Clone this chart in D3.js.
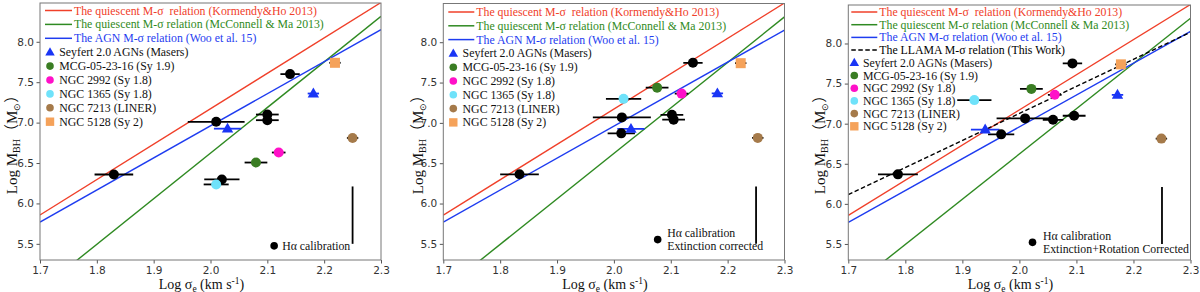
<!DOCTYPE html>
<html><head><meta charset="utf-8">
<script src="https://cdn.jsdelivr.net/npm/d3@7"></script>
<style>
body{margin:0;background:#fff}
svg text{white-space:pre}
</style></head><body>
<svg id="c" width="1200" height="292"></svg>
<script>
// ---------- data ----------
const xTicks = [1.7, 1.8, 1.9, 2.0, 2.1, 2.2, 2.3];
const yTicks = [5.5, 6.0, 6.5, 7.0, 7.5, 8.0];
const xDomain = [1.7, 2.3];
const yDomain = [5.3, 8.48];

const kormendyLine = [[1.7, 5.857], [2.3, 8.486]];
const mcconnellLine = [[1.7, 4.93], [2.3, 8.314]];
const wooLine = [[1.7, 5.77], [2.3, 8.15]];
const llamaLine = [[1.7, 6.116], [2.3, 8.14]];

const lineLabels = [
  "The quiescent M-σ  relation (Kormendy&Ho 2013)",
  "The quiescent M-σ relation (McConnell & Ma 2013)",
  "The AGN M-σ relation (Woo et al. 15)",
  "The LLAMA M-σ relation (This Work)"
];
const markerLabels = [
  "Seyfert 2.0 AGNs (Masers)",
  "MCG-05-23-16 (Sy 1.9)",
  "NGC 2992 (Sy 1.8)",
  "NGC 1365 (Sy 1.8)",
  "NGC 7213 (LINER)",
  "NGC 5128 (Sy 2)"
];
const markerKinds = ["maser", "mcg", "n2992", "n1365", "n7213", "n5128"];

// log sigma, log M, x error, kind
const panel1Points = [
  [1.830, 6.358, 0.034, "agn"],
  [2.010, 7.010, 0.050, "agn"],
  [2.020, 6.297, 0.031, "agn"],
  [2.100, 7.100, 0.020, "agn"],
  [2.100, 7.030, 0.020, "agn"],
  [2.140, 7.600, 0.017, "agn"],
  [2.030, 6.925, 0.024, "maser"],
  [2.181, 7.360, 0.010, "maser"],
  [2.080, 6.506, 0.020, "mcg"],
  [2.120, 6.630, 0.012, "n2992"],
  [2.010, 6.235, 0.022, "n1365"],
  [2.250, 6.810, 0.010, "n7213"],
  [2.219, 7.740, 0.010, "n5128"]
];
const panel2Points = [
  [1.834, 6.362, 0.034, "agn"],
  [2.014, 7.068, 0.051, "agn"],
  [2.013, 6.870, 0.024, "agn"],
  [2.102, 7.100, 0.020, "agn"],
  [2.105, 7.040, 0.020, "agn"],
  [2.139, 7.745, 0.017, "agn"],
  [2.030, 6.925, 0.024, "maser"],
  [2.182, 7.365, 0.010, "maser"],
  [2.076, 7.437, 0.020, "mcg"],
  [2.119, 7.363, 0.012, "n2992"],
  [2.017, 7.298, 0.031, "n1365"],
  [2.253, 6.814, 0.010, "n7213"],
  [2.223, 7.740, 0.010, "n5128"]
];
const panel3Points = [
  [1.787, 6.368, 0.035, "agn"],
  [2.010, 7.066, 0.050, "agn"],
  [1.968, 6.867, 0.023, "agn"],
  [2.059, 7.048, 0.018, "agn"],
  [2.096, 7.099, 0.020, "agn"],
  [2.093, 7.752, 0.017, "agn"],
  [1.940, 6.926, 0.025, "maser"],
  [2.172, 7.360, 0.010, "maser"],
  [2.021, 7.434, 0.020, "mcg"],
  [2.062, 7.360, 0.012, "n2992"],
  [1.921, 7.294, 0.030, "n1365"],
  [2.249, 6.814, 0.010, "n7213"],
  [2.178, 7.740, 0.010, "n5128"]
];
const scatterBar = [2.25, 5.5, 6.21];
const notes1 = ["Hα calibration"];
const notes2 = ["Hα calibration", "Extinction corrected"];
const notes3 = ["Hα calibration", "Extinction+Rotation Corrected"];
const noteDot1 = [2.112, 5.475];
const noteDot2 = [2.077, 5.553];
const noteDot3 = [2.023, 5.52];

// ---------- styles ----------
const colors = {
  red: "#f0402a", green: "#2f8a22", blue: "#1e3cf0",
  agn: "#000000", maser: "#1a35f5", mcg: "#3a7d23", n2992: "#ff10c8",
  n1365: "#6fe2fa", n7213: "#a57a4a", n5128: "#f5a25a"
};
const serif = "'Liberation Serif','Times New Roman',serif";
const sans = "'DejaVu Sans',sans-serif";
const legFont = 11.8;

const svg = d3.select("#c");

function marker(g, kind, x, y, big) {
  const c = colors[kind];
  if (kind === "maser") {
    const s = big ? 6 : 5;
    g.append("path").attr("d", `M${x},${y - s}L${x + s * 0.95},${y + s * 0.65}L${x - s * 0.95},${y + s * 0.65}Z`).attr("fill", c);
  } else if (kind === "n5128") {
    const s = big ? 5 : 4.2;
    g.append("rect").attr("x", x - s).attr("y", y - s).attr("width", 2 * s).attr("height", 2 * s).attr("fill", c);
  } else {
    g.append("circle").attr("cx", x).attr("cy", y).attr("r", big ? 5 : 3.8).attr("fill", c);
  }
}

function drawPanel(cfg, idx) {
  const x = d3.scaleLinear().domain(xDomain).range([cfg.left, cfg.right]);
  const y = d3.scaleLinear().domain(yDomain).range([cfg.bottom, cfg.top]);
  const g = svg.append("g");
  const clipId = "clip" + idx;
  svg.append("clipPath").attr("id", clipId).append("rect")
    .attr("x", cfg.left).attr("y", cfg.top).attr("width", cfg.right - cfg.left).attr("height", cfg.bottom - cfg.top);

  // axes
  const xa = g.append("g").attr("transform", `translate(0,${cfg.bottom})`)
    .call(d3.axisBottom(x).tickValues(xTicks).tickFormat(d3.format(".1f")).tickSizeOuter(0).tickSize(3.5).tickPadding(3));
  const ya = g.append("g").attr("transform", `translate(${cfg.left},0)`)
    .call(d3.axisLeft(y).tickValues(yTicks).tickFormat(d3.format(".1f")).tickSizeOuter(0).tickSize(3.5).tickPadding(2.5));
  [xa, ya].forEach(a => {
    a.select(".domain").remove();
    a.selectAll("line").attr("stroke", "#555");
    a.selectAll("text").attr("font-family", sans).attr("font-size", 10.5).attr("fill", "#333");
  });

  const pg = g.append("g").attr("clip-path", `url(#${clipId})`);
  const lineGen = d3.line().x(d => x(d[0])).y(d => y(d[1]));
  const rel = [[kormendyLine, colors.red], [mcconnellLine, colors.green], [wooLine, colors.blue]];
  rel.forEach(([d, c]) => pg.append("path").attr("d", lineGen(d)).attr("stroke", c).attr("stroke-width", 1.4).attr("fill", "none"));
  if (cfg.llama) pg.append("path").attr("d", lineGen(llamaLine)).attr("stroke", "#000").attr("stroke-width", 1.4)
    .attr("stroke-dasharray", "4.5,2.5").attr("fill", "none");

  // scatter representative bar
  pg.append("line").attr("x1", x(scatterBar[0])).attr("x2", x(scatterBar[0]))
    .attr("y1", y(scatterBar[1])).attr("y2", y(scatterBar[2])).attr("stroke", "#000").attr("stroke-width", 1.8);

  // error bars
  cfg.points.forEach(p => {
    pg.append("line").attr("x1", x(p[0] - p[2])).attr("x2", x(p[0] + p[2]))
      .attr("y1", y(p[1])).attr("y2", y(p[1]))
      .attr("stroke", p[3] === "maser" ? colors.maser : "#000").attr("stroke-width", 1.8);
  });
  cfg.points.filter(p => p[3] === "agn").forEach(p => marker(pg, "agn", x(p[0]), y(p[1]), true));
  cfg.points.filter(p => p[3] !== "agn").forEach(p => marker(pg, p[3], x(p[0]), y(p[1]), true));

  // frame
  g.append("rect").attr("x", cfg.left).attr("y", cfg.top).attr("width", cfg.right - cfg.left)
    .attr("height", cfg.bottom - cfg.top).attr("fill", "none").attr("stroke", "#777").attr("stroke-width", 1);

  // legend
  const nLines = cfg.llama ? 4 : 3;
  const lineColors = [colors.red, colors.green, colors.blue, "#000"];
  for (let i = 0; i < nLines; i++) {
    const yy = cfg.top + cfg.legTop + i * cfg.legStep;
    g.append("line").attr("x1", cfg.left + cfg.legLine[0]).attr("x2", cfg.left + cfg.legLine[1])
      .attr("y1", yy).attr("y2", yy).attr("stroke", lineColors[i]).attr("stroke-width", 1.5)
      .attr("stroke-dasharray", i === 3 ? "4.5,2.5" : null);
    g.append("text").attr("x", cfg.left + cfg.legLine[1] + 2).attr("y", yy + 4)
      .attr("font-family", serif).attr("font-size", legFont).attr("fill", lineColors[i]).text(lineLabels[i]);
  }
  markerLabels.forEach((lab, j) => {
    const yy = cfg.top + cfg.legTop + (nLines + j) * cfg.legStep;
    marker(g, markerKinds[j], cfg.left + cfg.legMark, yy, false);
    g.append("text").attr("x", cfg.left + cfg.legText).attr("y", yy + 4)
      .attr("font-family", serif).attr("font-size", legFont).attr("fill", "#111").text(lab);
  });

  // note
  const nd = cfg.noteDot;
  g.append("circle").attr("cx", x(nd[0])).attr("cy", y(nd[1])).attr("r", 3.8).attr("fill", "#000");
  const n = cfg.notes.length;
  cfg.notes.forEach((t, i) => {
    g.append("text").attr("x", x(nd[0]) + cfg.noteGap).attr("y", y(nd[1]) + 4 + (i - (n - 1) / 2) * 13.6)
      .attr("font-family", serif).attr("font-size", legFont).attr("fill", "#111").text(t);
  });

  // x label
  const xl = g.append("text").attr("x", (cfg.left + cfg.right) / 2 - 9).attr("y", 288.5)
    .attr("text-anchor", "middle").attr("font-family", serif).attr("font-size", 14).attr("fill", "#111");
  xl.append("tspan").text("Log σ");
  xl.append("tspan").attr("font-size", 9.5).attr("dy", 3).text("e");
  xl.append("tspan").attr("dy", -3).text(" (km s");
  xl.append("tspan").attr("font-size", 9.5).attr("dy", -5).text("-1");
  xl.append("tspan").attr("dy", 5).text(")");

  // y label
  const yl = g.append("text").attr("transform", `translate(${cfg.ylab},141) rotate(-90)`)
    .attr("text-anchor", "middle").attr("font-family", serif).attr("font-size", 15).attr("fill", "#111");
  yl.append("tspan").text("Log M");
  yl.append("tspan").attr("font-size", 10).attr("dy", 3).text("BH");
  yl.append("tspan").attr("dy", -3).attr("font-family", "'Noto Sans CJK SC'," + serif).text("（");
  yl.append("tspan").text("M");
  yl.append("tspan").attr("font-size", 9).attr("dy", 3).text("⊙");
  yl.append("tspan").attr("dy", -3).attr("font-family", "'Noto Sans CJK SC'," + serif).text("）");
}

const panels = [
  {left: 40, right: 381, top: 3, bottom: 260, points: panel1Points, llama: false,
   legTop: 7.5, legStep: 13.9, legLine: [5, 32], legMark: 10, legText: 19.3,
   notes: notes1, noteDot: noteDot1, noteGap: 8, ylab: 17},
  {left: 443.3, right: 784.5, top: 3.5, bottom: 260, points: panel2Points, llama: false,
   legTop: 8.5, legStep: 13.8, legLine: [5, 31], legMark: 10, legText: 19.3,
   notes: notes2, noteDot: noteDot2, noteGap: 9.5, ylab: 423},
  {left: 848.3, right: 1190.5, top: 5, bottom: 260, points: panel3Points, llama: true,
   legTop: 7, legStep: 12.7, legLine: [3, 29], legMark: 6, legText: 14.7,
   notes: notes3, noteDot: noteDot3, noteGap: 10.5, ylab: 825}
];
panels.forEach((p, i) => drawPanel(p, i));
</script>
</body></html>
